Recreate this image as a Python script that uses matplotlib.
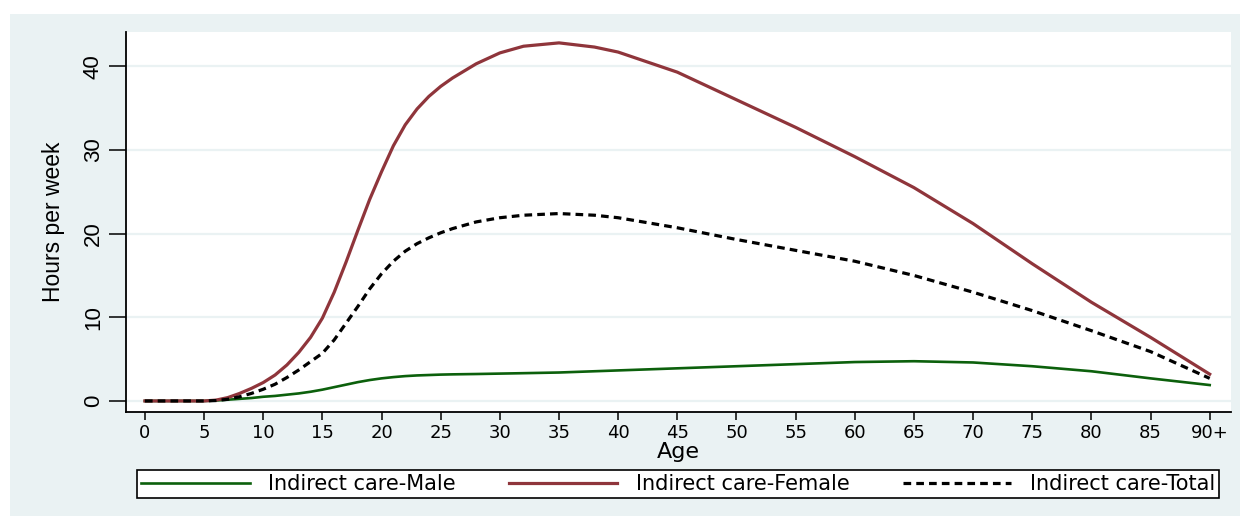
import matplotlib
matplotlib.use("Agg")
import matplotlib.pyplot as plt
from matplotlib.patches import Rectangle

# ---- data ----
ages = [0, 2, 4, 5, 6, 7, 8, 9, 10, 11, 12, 13, 14, 15, 16, 17, 18, 19, 20,
        21, 22, 23, 24, 25, 26, 28, 30, 32, 35, 38, 40, 45, 50, 55, 60, 65,
        70, 75, 80, 85, 90]
female = [0, 0, 0, 0, 0.1, 0.4, 0.9, 1.5, 2.2, 3.1, 4.3, 5.8, 7.6, 9.9, 13.0,
          16.6, 20.4, 24.1, 27.4, 30.5, 33.0, 34.9, 36.4, 37.6, 38.6, 40.3,
          41.6, 42.4, 42.8, 42.3, 41.7, 39.3, 36.0, 32.7, 29.2, 25.5, 21.2,
          16.4, 11.8, 7.6, 3.2]
total = [0, 0, 0, 0, 0.05, 0.2, 0.5, 0.9, 1.4, 2.0, 2.8, 3.7, 4.7, 5.7, 7.3,
         9.3, 11.3, 13.4, 15.2, 16.7, 17.9, 18.8, 19.5, 20.1, 20.6, 21.4,
         21.9, 22.2, 22.4, 22.2, 21.9, 20.7, 19.3, 18.0, 16.7, 15.0, 13.0,
         10.8, 8.4, 5.9, 2.7]
male = [0, 0, 0, 0, 0.05, 0.15, 0.25, 0.35, 0.5, 0.6, 0.75, 0.9, 1.1, 1.35,
        1.65, 1.95, 2.25, 2.5, 2.7, 2.85, 2.97, 3.05, 3.1, 3.15, 3.18, 3.22,
        3.27, 3.32, 3.4, 3.55, 3.65, 3.9, 4.15, 4.4, 4.65, 4.75, 4.6, 4.15,
        3.55, 2.7, 1.9]

xticks = list(range(0, 91, 5))
xticklabels = [str(v) for v in range(0, 90, 5)] + ["90+"]
yticks = [0, 10, 20, 30, 40]

series_labels = ["Indirect care-Male", "Indirect care-Female", "Indirect care-Total"]

# ---- styling ----
W, H = 1247, 516
BG = "#EAF2F3"
GREEN = "#0c600c"
MAROON = "#8f353b"

narrow = ["Liberation Sans Narrow", "Liberation Sans", "DejaVu Sans"]
wide = ["DejaVu Sans"]

fig = plt.figure(figsize=(W / 100, H / 100), dpi=100, facecolor="white")
bg = Rectangle((10 / W, 0), (1240 - 10) / W, (516 - 14) / H,
               transform=fig.transFigure, facecolor=BG,
               edgecolor="none", zorder=-10)
fig.add_artist(bg)

ax = fig.add_axes([126 / W, (H - 412) / H, (1231 - 126) / W, (412 - 32) / H])
ax.set_zorder(1)
ax.set_facecolor("white")
ax.set_xlim(-1.6, 91.8)
ax.set_ylim(-1.32, 44.1)

for y in yticks:
    ax.axhline(y, color=BG, lw=1.6, zorder=1)

l1, = ax.plot(ages, male, color=GREEN, lw=1.9, zorder=3)
l2, = ax.plot(ages, female, color=MAROON, lw=2.3, zorder=3)
l3, = ax.plot(ages, total, color="black", lw=2.3, dashes=(2.4, 1.6), zorder=4)

for s in ["top", "right"]:
    ax.spines[s].set_visible(False)
for s in ["left", "bottom"]:
    ax.spines[s].set_color("black")
    ax.spines[s].set_linewidth(1.3)

ax.set_xticks(xticks)
ax.set_xticklabels(xticklabels, family=wide, fontsize=13)
ax.tick_params(axis="x", length=6, width=1.1, pad=3, colors="black")
ax.set_yticks(yticks)
ax.set_yticklabels([str(v) for v in yticks], family=narrow, fontsize=16,
                   rotation=90, va="center")
ax.tick_params(axis="y", length=12, width=1.1, pad=4, colors="black")

ax.set_xlabel("Age", family=wide, fontsize=16, labelpad=0)
ax.set_ylabel("Hours per week", family=narrow, fontsize=16.5, labelpad=13)

leg = fig.legend([l1, l2, l3], series_labels, ncol=3, mode="expand",
                 bbox_to_anchor=(137 / W, (H - 498) / H, (1219 - 137) / W, 32 / H),
                 loc="lower left", borderaxespad=0, frameon=True, fancybox=False,
                 edgecolor="black", facecolor="white", framealpha=1,
                 prop={"family": wide, "size": 15}, handlelength=5.2,
                 handletextpad=0.87, borderpad=0.2, columnspacing=2.0)
leg.get_frame().set_linewidth(1.2)

fig.savefig("out.png", dpi=100, facecolor="white")
